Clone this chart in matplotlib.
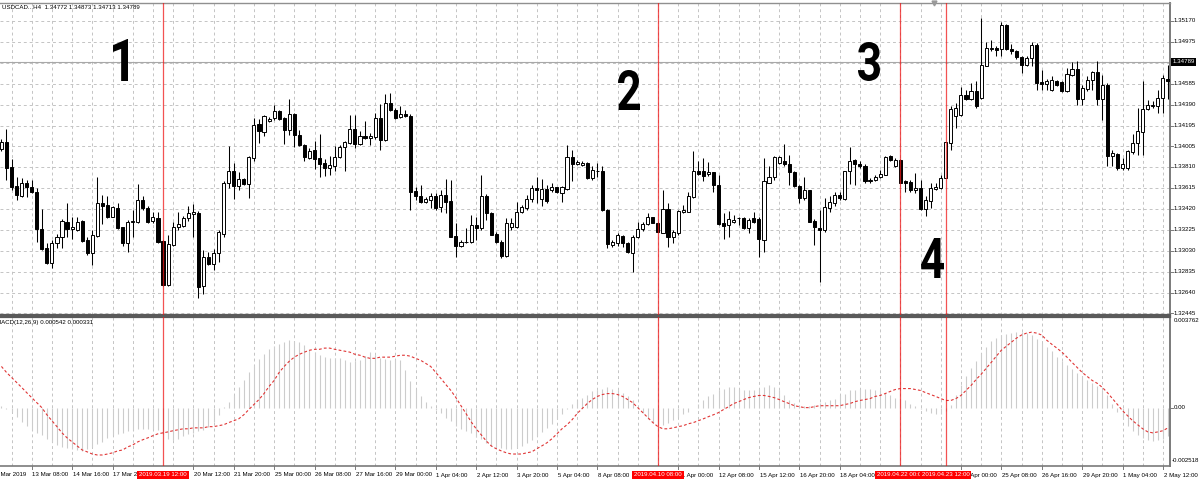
import matplotlib
matplotlib.use("Agg")
import numpy as np
import matplotlib.pyplot as plt
from matplotlib.font_manager import FontProperties
from matplotlib.patches import PathPatch
from matplotlib.textpath import TextPath
from matplotlib.transforms import Affine2D, blended_transform_factory

# USDCAD H4, bar index 0 = 13 Mar 2019 08:00 (first bar shown is index -6)
first_bar = -6
opens = [
    1.33980, 1.34042, 1.33805, 1.33635, 1.33544, 1.33660, 1.33623, 1.33581, 1.33233, 1.33053,
    1.32913, 1.33100, 1.33162, 1.33301, 1.33231, 1.33224, 1.33308, 1.33131, 1.33007, 1.33171,
    1.33473, 1.33457, 1.33348, 1.33432, 1.33249, 1.33100, 1.33299, 1.33301, 1.33504, 1.33432,
    1.33308, 1.33339, 1.33121, 1.32711, 1.33084, 1.33249, 1.33261, 1.33333, 1.33373, 1.33380,
    1.32702, 1.32969, 1.32904, 1.33007, 1.33187, 1.33660, 1.33777, 1.33635, 1.33697, 1.33653,
    1.33893, 1.34210, 1.34136, 1.34235, 1.34266, 1.34328, 1.34266, 1.34157, 1.34306, 1.34110,
    1.34017, 1.33893, 1.33964, 1.33893, 1.33846, 1.33800, 1.33815, 1.33902, 1.33992, 1.34033,
    1.34166, 1.34024, 1.34095, 1.34080, 1.34089, 1.34266, 1.34057, 1.34406, 1.34344, 1.34276,
    1.34306, 1.34288, 1.33588, 1.33535, 1.33488, 1.33504, 1.33535, 1.33436, 1.33551, 1.33495,
    1.33168, 1.33078, 1.33112, 1.33115, 1.33271, 1.33240, 1.33535, 1.33380, 1.33184, 1.33115,
    1.32982, 1.33249, 1.33249, 1.33386, 1.33427, 1.33511, 1.33613, 1.33511, 1.33604, 1.33591,
    1.33623, 1.33572, 1.33604, 1.33902, 1.33837, 1.33831, 1.33846, 1.33706, 1.33772, 1.33777,
    1.33411, 1.33084, 1.33106, 1.33168, 1.33106, 1.33012, 1.33156, 1.33231, 1.33280, 1.33343,
    1.33292, 1.33199, 1.33417, 1.33156, 1.33199, 1.33395, 1.33395, 1.33529, 1.33768, 1.33768,
    1.33747, 1.33759, 1.33644, 1.33287, 1.33271, 1.33301, 1.33331, 1.33333, 1.33240, 1.33333,
    1.33324, 1.33131, 1.33665, 1.33716, 1.33846, 1.33861, 1.33840, 1.33759, 1.33635, 1.33520,
    1.33591, 1.33311, 1.33240, 1.33224, 1.33427, 1.33473, 1.33551, 1.33513, 1.33768, 1.33871,
    1.33840, 1.33821, 1.33678, 1.33684, 1.33716, 1.33737, 1.33908, 1.33821, 1.33871, 1.33675,
    1.33669, 1.33597, 1.33613, 1.33420, 1.33497, 1.33607, 1.33613, 1.33706, 1.34033, 1.34281,
    1.34297, 1.34484, 1.34444, 1.34521, 1.34453, 1.34754, 1.34910, 1.34919, 1.34910, 1.35137,
    1.34910, 1.34894, 1.34835, 1.34764, 1.34826, 1.34950, 1.34598, 1.34586, 1.34530, 1.34608,
    1.34598, 1.34514, 1.34670, 1.34723, 1.34444, 1.34537, 1.34617, 1.34692, 1.34444, 1.34577,
    1.33915, 1.33933, 1.33800, 1.33800, 1.33945, 1.34033, 1.34132, 1.34350, 1.34374, 1.34374,
    1.34453, 1.34633,
]
highs = [
    1.34073, 1.34166, 1.33887, 1.33716, 1.33706, 1.33691, 1.33691, 1.33613, 1.33417, 1.33100,
    1.33131, 1.33187, 1.33324, 1.33473, 1.33348, 1.33348, 1.33317, 1.33162, 1.33224, 1.33716,
    1.33551, 1.33535, 1.33448, 1.33473, 1.33255, 1.33317, 1.33411, 1.33650, 1.33535, 1.33442,
    1.33395, 1.33395, 1.33131, 1.33177, 1.33301, 1.33395, 1.33355, 1.33448, 1.33467, 1.33404,
    1.33037, 1.33022, 1.33044, 1.33224, 1.33675, 1.34001, 1.33846, 1.33759, 1.33705, 1.33908,
    1.34266, 1.34257, 1.34297, 1.34276, 1.34390, 1.34344, 1.34276, 1.34444, 1.34313, 1.34157,
    1.34024, 1.33986, 1.34048, 1.34117, 1.33887, 1.33915, 1.34008, 1.34017, 1.34054, 1.34297,
    1.34297, 1.34141, 1.34235, 1.34126, 1.34313, 1.34400, 1.34493, 1.34500, 1.34359, 1.34381,
    1.34344, 1.34306, 1.33628, 1.33644, 1.33532, 1.33569, 1.33569, 1.33597, 1.33700, 1.33691,
    1.33287, 1.33131, 1.33243, 1.33364, 1.33348, 1.33737, 1.33560, 1.33387, 1.33208, 1.33131,
    1.33333, 1.33333, 1.33488, 1.33457, 1.33551, 1.33644, 1.33721, 1.33697, 1.33644, 1.33660,
    1.33628, 1.33635, 1.34017, 1.33971, 1.33877, 1.33861, 1.33852, 1.33815, 1.33846, 1.33815,
    1.33415, 1.33131, 1.33199, 1.33177, 1.33115, 1.33177, 1.33301, 1.33301, 1.33380, 1.33348,
    1.33301, 1.33597, 1.33473, 1.33224, 1.33411, 1.33457, 1.33581, 1.33955, 1.33861, 1.33893,
    1.33852, 1.33765, 1.33737, 1.33380, 1.33404, 1.33364, 1.33348, 1.33343, 1.33333, 1.33395,
    1.33348, 1.33893, 1.33815, 1.33908, 1.33908, 1.34026, 1.33924, 1.33768, 1.33644, 1.33721,
    1.33597, 1.33324, 1.33411, 1.33520, 1.33535, 1.33581, 1.33581, 1.33777, 1.33996, 1.33884,
    1.33861, 1.33840, 1.33706, 1.33737, 1.33784, 1.33915, 1.33919, 1.33893, 1.33882, 1.33691,
    1.33684, 1.33753, 1.33691, 1.33535, 1.33660, 1.33660, 1.33737, 1.34045, 1.34374, 1.34406,
    1.34555, 1.34530, 1.34593, 1.34608, 1.35199, 1.34972, 1.34997, 1.34941, 1.35158, 1.35146,
    1.34960, 1.34904, 1.34848, 1.34841, 1.34972, 1.34966, 1.34717, 1.34630, 1.34654, 1.34624,
    1.34608, 1.34733, 1.34785, 1.34794, 1.34577, 1.34654, 1.34701, 1.34794, 1.34670, 1.34593,
    1.33971, 1.33940, 1.33893, 1.33971, 1.34120, 1.34359, 1.34608, 1.34437, 1.34421, 1.34530,
    1.34670, 1.34764,
]
lows = [
    1.33961, 1.33691, 1.33597, 1.33504, 1.33529, 1.33529, 1.33567, 1.33115, 1.33037, 1.32907,
    1.32872, 1.33053, 1.33053, 1.33162, 1.33137, 1.33218, 1.33115, 1.32991, 1.32898, 1.33162,
    1.33280, 1.33333, 1.33343, 1.33231, 1.33078, 1.33022, 1.33162, 1.33292, 1.33411, 1.33292,
    1.33292, 1.33106, 1.32702, 1.32702, 1.33075, 1.33224, 1.33255, 1.33308, 1.33162, 1.32590,
    1.32627, 1.32898, 1.32851, 1.32928, 1.33162, 1.33613, 1.33511, 1.33597, 1.33644, 1.33520,
    1.33861, 1.34033, 1.34095, 1.34225, 1.34250, 1.34244, 1.34026, 1.34110, 1.33996, 1.34008,
    1.33868, 1.33884, 1.33790, 1.33721, 1.33728, 1.33737, 1.33768, 1.33893, 1.33768, 1.34026,
    1.33986, 1.34017, 1.34073, 1.34017, 1.34070, 1.33964, 1.34048, 1.34328, 1.34257, 1.34266,
    1.34278, 1.33411, 1.33504, 1.33473, 1.33476, 1.33429, 1.33411, 1.33392, 1.33380, 1.33154,
    1.32975, 1.33065, 1.33100, 1.33100, 1.33131, 1.33224, 1.33317, 1.33173, 1.33100, 1.32960,
    1.32975, 1.33224, 1.33240, 1.33380, 1.33411, 1.33488, 1.33473, 1.33448, 1.33473, 1.33581,
    1.33572, 1.33488, 1.33597, 1.33675, 1.33831, 1.33815, 1.33700, 1.33691, 1.33721, 1.33404,
    1.33053, 1.33068, 1.33078, 1.33068, 1.33007, 1.32835, 1.33147, 1.33218, 1.33271, 1.33287,
    1.33205, 1.33193, 1.33068, 1.33100, 1.33177, 1.33380, 1.33386, 1.33520, 1.33737, 1.33675,
    1.33728, 1.33581, 1.33271, 1.33137, 1.33162, 1.33292, 1.33271, 1.33231, 1.33193, 1.33292,
    1.32975, 1.33022, 1.33660, 1.33691, 1.33840, 1.33815, 1.33644, 1.33623, 1.33473, 1.33504,
    1.33299, 1.33084, 1.32742, 1.33208, 1.33395, 1.33442, 1.33504, 1.33504, 1.33653, 1.33644,
    1.33800, 1.33665, 1.33665, 1.33675, 1.33706, 1.33731, 1.33863, 1.33809, 1.33658, 1.33581,
    1.33581, 1.33572, 1.33411, 1.33355, 1.33427, 1.33597, 1.33604, 1.33705, 1.33971, 1.34173,
    1.34288, 1.34430, 1.34430, 1.34359, 1.34444, 1.34748, 1.34888, 1.34841, 1.34841, 1.34904,
    1.34866, 1.34817, 1.34686, 1.34748, 1.34748, 1.34530, 1.34530, 1.34530, 1.34514, 1.34561,
    1.34505, 1.34505, 1.34654, 1.34390, 1.34390, 1.34514, 1.34530, 1.34390, 1.34250, 1.33815,
    1.33815, 1.33784, 1.33784, 1.33784, 1.33933, 1.33924, 1.33924, 1.34344, 1.34359, 1.34313,
    1.34313, 1.34446,
]
closes = [
    1.34040, 1.33800, 1.33628, 1.33551, 1.33660, 1.33623, 1.33576, 1.33231, 1.33044, 1.32913,
    1.33106, 1.33162, 1.33311, 1.33231, 1.33255, 1.33301, 1.33124, 1.33007, 1.33177, 1.33473,
    1.33451, 1.33343, 1.33436, 1.33240, 1.33100, 1.33296, 1.33308, 1.33504, 1.33427, 1.33301,
    1.33348, 1.33115, 1.32711, 1.33091, 1.33255, 1.33280, 1.33339, 1.33380, 1.33386, 1.32695,
    1.32969, 1.32904, 1.33012, 1.33208, 1.33665, 1.33777, 1.33635, 1.33700, 1.33653, 1.33899,
    1.34204, 1.34141, 1.34281, 1.34257, 1.34328, 1.34260, 1.34151, 1.34304, 1.34110, 1.34017,
    1.33899, 1.33961, 1.33887, 1.33840, 1.33800, 1.33831, 1.33902, 1.33992, 1.34039, 1.34166,
    1.34024, 1.34101, 1.34080, 1.34101, 1.34266, 1.34064, 1.34406, 1.34344, 1.34266, 1.34306,
    1.34288, 1.33581, 1.33535, 1.33488, 1.33511, 1.33535, 1.33427, 1.33551, 1.33488, 1.33162,
    1.33075, 1.33115, 1.33115, 1.33271, 1.33240, 1.33535, 1.33380, 1.33177, 1.33115, 1.32984,
    1.33287, 1.33287, 1.33389, 1.33436, 1.33511, 1.33613, 1.33591, 1.33604, 1.33495, 1.33623,
    1.33581, 1.33623, 1.33902, 1.33840, 1.33852, 1.33846, 1.33706, 1.33784, 1.33777, 1.33411,
    1.33093, 1.33115, 1.33177, 1.33100, 1.33022, 1.33162, 1.33231, 1.33280, 1.33343, 1.33292,
    1.33208, 1.33417, 1.33156, 1.33208, 1.33404, 1.33411, 1.33535, 1.33768, 1.33747, 1.33728,
    1.33759, 1.33644, 1.33280, 1.33261, 1.33324, 1.33317, 1.33333, 1.33240, 1.33317, 1.33301,
    1.33137, 1.33675, 1.33716, 1.33902, 1.33902, 1.33840, 1.33759, 1.33635, 1.33520, 1.33597,
    1.33301, 1.33249, 1.33224, 1.33436, 1.33479, 1.33551, 1.33520, 1.33768, 1.33861, 1.33840,
    1.33821, 1.33675, 1.33691, 1.33716, 1.33747, 1.33902, 1.33871, 1.33877, 1.33660, 1.33660,
    1.33591, 1.33613, 1.33420, 1.33504, 1.33613, 1.33619, 1.33706, 1.34039, 1.34350, 1.34359,
    1.34484, 1.34444, 1.34514, 1.34374, 1.34764, 1.34919, 1.34919, 1.34897, 1.35137, 1.34910,
    1.34888, 1.34835, 1.34764, 1.34826, 1.34950, 1.34593, 1.34586, 1.34608, 1.34624, 1.34577,
    1.34514, 1.34680, 1.34723, 1.34444, 1.34546, 1.34624, 1.34692, 1.34444, 1.34577, 1.33915,
    1.33940, 1.33800, 1.33840, 1.33955, 1.34033, 1.34141, 1.34350, 1.34390, 1.34390, 1.34453,
    1.34639, 1.34608,
]

# MACD(12,26,9): main line (histogram) and signal (dotted)
macd_main = [
    0.00008, -0.00004, -0.00017, -0.00038, -0.00059, -0.00076, -0.00093, -0.00106, -0.00114, -0.00131,
    -0.00144, -0.00157, -0.00165, -0.00169, -0.00173, -0.00178, -0.00182, -0.00173, -0.00165, -0.00152,
    -0.00144, -0.00127, -0.00114, -0.00110, -0.00106, -0.00097, -0.00093, -0.00089, -0.00089, -0.00089,
    -0.00089, -0.00093, -0.00110, -0.00131, -0.00135, -0.00131, -0.00118, -0.00110, -0.00106, -0.00097,
    -0.00093, -0.00080, -0.00059, -0.00030, 0.00004, 0.00025, 0.00055, 0.00085, 0.00118, 0.00148,
    0.00178, 0.00203, 0.00224, 0.00245, 0.00258, 0.00266, 0.00275, 0.00283, 0.00279, 0.00275,
    0.00262, 0.00241, 0.00233, 0.00220, 0.00212, 0.00207, 0.00207, 0.00207, 0.00199, 0.00190,
    0.00195, 0.00199, 0.00216, 0.00233, 0.00220, 0.00207, 0.00203, 0.00199, 0.00203, 0.00199,
    0.00157, 0.00110, 0.00080, 0.00047, 0.00025, 0.00008, -0.00008, -0.00021, -0.00042, -0.00055,
    -0.00076, -0.00089, -0.00097, -0.00106, -0.00123, -0.00131, -0.00148, -0.00161, -0.00165, -0.00169,
    -0.00173, -0.00173, -0.00169, -0.00161, -0.00148, -0.00135, -0.00118, -0.00102, -0.00085, -0.00068,
    -0.00047, -0.00025, -0.00004, 0.00017, 0.00030, 0.00042, 0.00055, 0.00068, 0.00076, 0.00080,
    0.00085, 0.00080, 0.00076, 0.00063, 0.00047, 0.00030, 0.00004, -0.00021, -0.00047, -0.00063,
    -0.00076, -0.00072, -0.00063, -0.00051, -0.00038, -0.00025, -0.00017, 0.00000, 0.00017, 0.00030,
    0.00047, 0.00059, 0.00076, 0.00080, 0.00085, 0.00085, 0.00080, 0.00076, 0.00072, 0.00076,
    0.00080, 0.00085, 0.00093, 0.00085, 0.00072, 0.00055, 0.00034, 0.00021, 0.00008, 0.00008,
    0.00008, 0.00013, 0.00021, 0.00025, 0.00030, 0.00038, 0.00051, 0.00059, 0.00072, 0.00076,
    0.00080, 0.00080, 0.00080, 0.00076, 0.00072, 0.00063, 0.00051, 0.00042, 0.00038, 0.00030,
    0.00017, 0.00008, -0.00004, -0.00013, -0.00021, -0.00025, -0.00025, -0.00013, 0.00013, 0.00051,
    0.00097, 0.00131, 0.00165, 0.00195, 0.00228, 0.00254, 0.00279, 0.00292, 0.00305, 0.00309,
    0.00313, 0.00317, 0.00317, 0.00313, 0.00305, 0.00288, 0.00271, 0.00254, 0.00237, 0.00212,
    0.00195, 0.00178, 0.00161, 0.00144, 0.00131, 0.00114, 0.00102, 0.00089, 0.00072, 0.00051,
    0.00017, -0.00017, -0.00047, -0.00076, -0.00097, -0.00114, -0.00127, -0.00135, -0.00140, -0.00135,
    -0.00131, -0.00118,
]
macd_signal = [
    0.00173, 0.00148, 0.00127, 0.00106, 0.00085, 0.00063, 0.00042, 0.00021, 0.00000, -0.00030,
    -0.00055, -0.00080, -0.00106, -0.00127, -0.00144, -0.00161, -0.00178, -0.00186, -0.00195, -0.00199,
    -0.00199, -0.00195, -0.00190, -0.00182, -0.00178, -0.00165, -0.00157, -0.00144, -0.00135, -0.00127,
    -0.00118, -0.00110, -0.00106, -0.00102, -0.00097, -0.00093, -0.00089, -0.00089, -0.00085, -0.00085,
    -0.00085, -0.00080, -0.00080, -0.00076, -0.00072, -0.00063, -0.00055, -0.00047, -0.00030, -0.00008,
    0.00013, 0.00034, 0.00059, 0.00089, 0.00114, 0.00148, 0.00173, 0.00195, 0.00212, 0.00224,
    0.00233, 0.00241, 0.00245, 0.00245, 0.00250, 0.00250, 0.00245, 0.00241, 0.00237, 0.00233,
    0.00224, 0.00220, 0.00212, 0.00207, 0.00207, 0.00212, 0.00212, 0.00212, 0.00216, 0.00220,
    0.00220, 0.00216, 0.00207, 0.00199, 0.00186, 0.00173, 0.00148, 0.00123, 0.00097, 0.00072,
    0.00042, 0.00008, -0.00025, -0.00059, -0.00089, -0.00114, -0.00140, -0.00161, -0.00173, -0.00182,
    -0.00190, -0.00195, -0.00195, -0.00195, -0.00190, -0.00186, -0.00173, -0.00161, -0.00148, -0.00131,
    -0.00110, -0.00089, -0.00072, -0.00051, -0.00025, -0.00004, 0.00017, 0.00034, 0.00047, 0.00055,
    0.00059, 0.00059, 0.00055, 0.00047, 0.00034, 0.00021, 0.00000, -0.00021, -0.00042, -0.00063,
    -0.00080, -0.00089, -0.00089, -0.00085, -0.00080, -0.00076, -0.00068, -0.00063, -0.00055, -0.00047,
    -0.00038, -0.00030, -0.00021, -0.00008, 0.00004, 0.00017, 0.00025, 0.00034, 0.00042, 0.00047,
    0.00051, 0.00051, 0.00047, 0.00042, 0.00034, 0.00025, 0.00017, 0.00008, 0.00004, 0.00000,
    0.00000, 0.00004, 0.00008, 0.00008, 0.00008, 0.00008, 0.00008, 0.00013, 0.00017, 0.00025,
    0.00030, 0.00034, 0.00038, 0.00047, 0.00051, 0.00059, 0.00068, 0.00076, 0.00080, 0.00080,
    0.00080, 0.00076, 0.00072, 0.00063, 0.00055, 0.00047, 0.00038, 0.00030, 0.00030, 0.00038,
    0.00051, 0.00072, 0.00093, 0.00118, 0.00140, 0.00165, 0.00190, 0.00216, 0.00241, 0.00258,
    0.00275, 0.00292, 0.00305, 0.00313, 0.00317, 0.00313, 0.00305, 0.00283, 0.00266, 0.00250,
    0.00233, 0.00212, 0.00190, 0.00169, 0.00148, 0.00131, 0.00114, 0.00102, 0.00085, 0.00063,
    0.00038, 0.00013, -0.00013, -0.00034, -0.00055, -0.00072, -0.00089, -0.00102, -0.00106, -0.00102,
    -0.00097, -0.00085,
]

price_ticks = [1.35170, 1.34975, 1.34780, 1.34585, 1.34390, 1.34195, 1.34005, 1.33810,
               1.33615, 1.33420, 1.33225, 1.33030, 1.32835, 1.32640, 1.32445]
time_ticks = [-8, 0, 8, 16, 32, 40, 48, 56, 64, 72, 80, 88, 96, 104, 112, 128, 136,
              144, 152, 160, 184, 192, 200, 208, 216, 224]
time_labels = ["12 Mar 2019", "13 Mar 08:00", "14 Mar 16:00", "17 Mar 20:00", "20 Mar 12:00",
               "21 Mar 20:00", "25 Mar 00:00", "26 Mar 08:00", "27 Mar 16:00", "29 Mar 00:00",
               "1 Apr 04:00", "2 Apr 12:00", "3 Apr 20:00", "5 Apr 04:00", "8 Apr 08:00",
               "11 Apr 00:00", "12 Apr 08:00", "15 Apr 12:00", "16 Apr 20:00", "18 Apr 04:00",
               "24 Apr 00:00", "25 Apr 08:00", "26 Apr 16:00", "29 Apr 20:00", "1 May 04:00",
               "2 May 12:00"]
marked_bars = [26, 124, 172, 181]
marked_labels = ["2019.03.19 12:00", "2019.04.10 08:00", "2019.04.22 00:00", "2019.04.23 12:00"]
bid = 1.34789
header = "USDCAD...H4  1.34772 1.34873 1.34713 1.34789"
macd_header = "MACD(12,26,9) 0.000542 0.000331"

W, H = 1200, 484
plt.rcParams["font.family"] = ["Liberation Sans", "DejaVu Sans"]
FS = 4.4
GRID = "#c4c4c4"
FRAME = "#7a7a7a"


def main():
    fig = plt.figure(figsize=(W / 100, H / 100), dpi=100, facecolor="white")
    right = 1170
    ax1 = fig.add_axes([0, 1 - 315 / H, right / W, (315 - 2.5) / H])
    ax2 = fig.add_axes([0, 1 - 466 / H, right / W, (466 - 317) / H])

    idx = np.arange(first_bar, first_bar + len(opens))
    o, h, l, c = (np.array(v) for v in (opens, highs, lows, closes))
    x_lo, x_hi = -6.28, 225.4

    # price panel
    ax1.set_xlim(x_lo, x_hi)
    ax1.set_ylim(1.32431, 1.35342)
    for t in price_ticks:
        ax1.axhline(t, color=GRID, lw=0.7, ls=(0, (3, 3)), zorder=0)
    for g in range(-8, 228, 4):
        ax1.axvline(g, color=GRID, lw=0.7, ls=(0, (3, 3)), zorder=0)
        ax2.axvline(g, color=GRID, lw=0.7, ls=(0, (3, 3)), zorder=0)
    ax1.axhline(bid, color="#a8a8a8", lw=0.8, zorder=1)

    up = c >= o
    lo = np.minimum(o, c)
    hgt = np.maximum(np.abs(c - o), 0.00001)
    ax1.vlines(idx, l, h, color="black", lw=0.75, zorder=2)
    ax1.bar(idx[up], hgt[up], bottom=lo[up], width=0.62, facecolor="white",
            edgecolor="black", lw=0.7, zorder=3)
    ax1.bar(idx[~up], hgt[~up], bottom=lo[~up], width=0.62, facecolor="black",
            edgecolor="black", lw=0.7, zorder=3)

    # MACD panel
    ax2.set_xlim(x_lo, x_hi)
    ax2.set_ylim(-0.002453, 0.003807)
    ax2.vlines(idx, 0, macd_main, color="#cccccc", lw=0.8, zorder=2)
    ax2.plot(idx, macd_signal, color="#e03535", lw=0.8, ls=(0, (2.5, 2)), zorder=3)

    for b in marked_bars:
        for ax in (ax1, ax2):
            ax.axvline(b, color="#f01818", lw=0.9, alpha=0.75, zorder=6)

    for ax in (ax1, ax2):
        ax.set_xticks([])
        ax.set_yticks([])
        ax.spines["left"].set_visible(False)
        ax.spines["right"].set_color(FRAME)
        ax.spines["right"].set_linewidth(1.4)
    ax1.spines["top"].set_color("#909090")
    ax1.spines["top"].set_linewidth(1.0)
    ax1.spines["bottom"].set_color("#5a5a5a")
    ax1.spines["bottom"].set_linewidth(1.6)
    ax2.spines["top"].set_color("#5a5a5a")
    ax2.spines["top"].set_linewidth(1.6)
    ax2.spines["bottom"].set_color(FRAME)
    ax2.spines["bottom"].set_linewidth(1.2)

    # chart-shift marker on the top frame
    ax1.plot([0.7985], [1.0], marker="v", ms=3.5, color="#9a9a9a",
             transform=ax1.transAxes, clip_on=False, zorder=8)

    # right price scale
    tr1 = blended_transform_factory(ax1.transAxes, ax1.transData)
    for t in price_ticks:
        ax1.plot([1.0, 1.0 + 3 / right], [t, t], color=FRAME, lw=0.7,
                 transform=tr1, clip_on=False)
        if t != 1.34780:
            ax1.text(1.0 + 3.5 / right, t, f"{t:.5f}", transform=tr1, fontsize=FS,
                     va="center", ha="left", color="black")
    ax1.text(1.0 + 2.5 / right, bid, f"{bid:.5f}", transform=tr1, fontsize=FS,
             va="center", ha="left", color="white", zorder=10,
             bbox=dict(boxstyle="square,pad=0.25", fc="black", ec="none"))

    tr2 = blended_transform_factory(ax2.transAxes, ax2.transData)
    ax2.text(1.0 + 3.5 / right, 0.003762, "0.003762", transform=tr2, fontsize=FS,
             va="top", ha="left")
    ax2.text(1.0 + 3.5 / right, 0.0, "0.00", transform=tr2, fontsize=FS,
             va="center", ha="left")
    ax2.plot([1.0, 1.0 + 3 / right], [0, 0], color=FRAME, lw=0.7,
             transform=tr2, clip_on=False)
    ax2.text(1.0 + 2 / right, 0.02, "-0.002518", transform=ax2.transAxes, fontsize=FS,
             va="bottom", ha="left")

    # time scale
    trx = blended_transform_factory(ax2.transData, ax2.transAxes)
    lab_y = -9 / 149
    for t, lab in zip(time_ticks, time_labels):
        ax2.plot([t, t], [0, -3 / 149], color=FRAME, lw=0.7, transform=trx, clip_on=False)
        ax2.text(t + 0.15, lab_y, lab, transform=trx, fontsize=FS, va="center",
                 ha="left", color="black", zorder=5)
    for b, lab in zip(marked_bars, marked_labels):
        ax2.text(b, lab_y, lab, transform=trx, fontsize=FS, va="center", ha="center",
                 color="white", zorder=20,
                 bbox=dict(boxstyle="square,pad=0.3", fc="#ff0000", ec="none"))

    fig.text(2 / W, 1 - 7.5 / H, header, fontsize=FS, va="center", ha="left")
    fig.text(-4 / W, 1 - 322.5 / H, macd_header, fontsize=FS, va="center", ha="left")

    # hand-drawn wave numbers
    prop = FontProperties(family=["Roboto", "DejaVu Sans"], weight="bold")
    for ch, (x0, y0, x1, y1) in [("1", (113, 39, 128, 81)), ("2", (618, 70, 640, 110)),
                                 ("3", (858, 42, 880, 81)), ("4", (921, 238, 944, 278))]:
        path = TextPath((0, 0), ch, size=100, prop=prop)
        bb = path.get_extents()
        trf = (Affine2D().translate(-bb.x0, -bb.y0)
               .scale((x1 - x0) / bb.width, (y1 - y0) / bb.height)
               .translate(x0, H - y1).scale(1 / W, 1 / H) + fig.transFigure)
        fig.add_artist(PathPatch(path, transform=trf, fc="black", ec="none", zorder=30))

    fig.savefig("out.png", dpi=100, facecolor="white")


if __name__ == "__main__":
    main()
